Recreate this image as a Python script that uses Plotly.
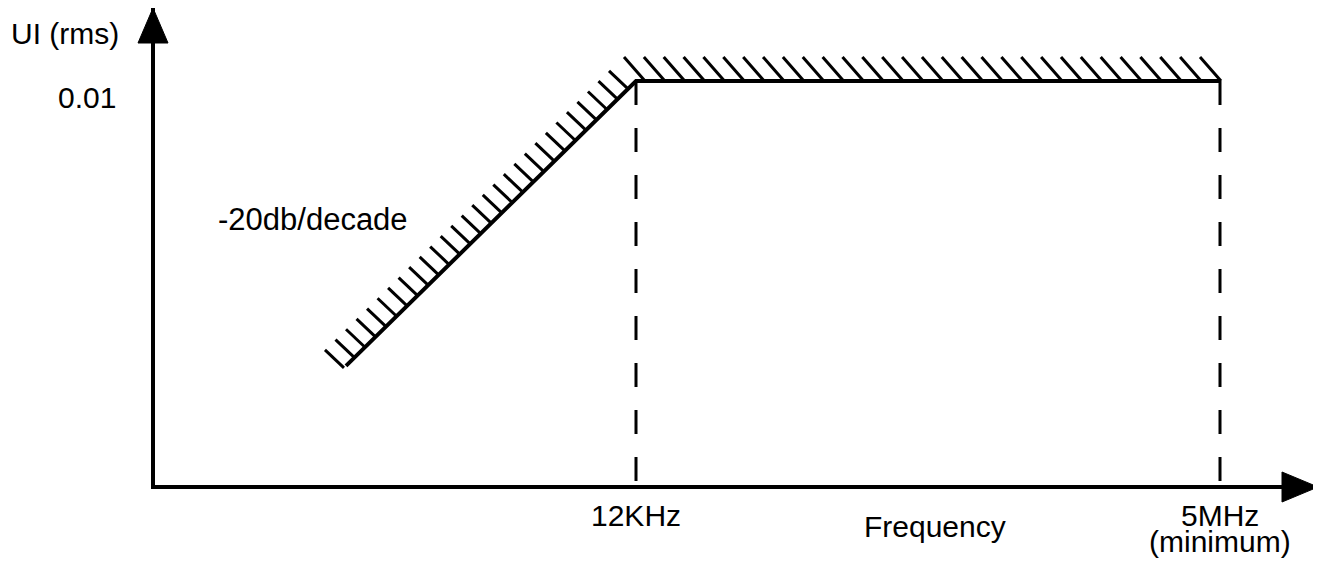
import numpy as np
import plotly.graph_objects as go

# ---- data ----
freq_hz = [600, 12000, 5e6]          # jitter tolerance mask corner points
ui_rms = [0.0005, 0.01, 0.01]
corner_freqs = [12000, 5e6]
corner_labels = ["12KHz", "5MHz"]
corner_notes = ["", "(minimum)"]
y_label_value = 0.01
y_label_text = "0.01"
slope_label = "-20db/decade"
x_title = "Frequency"
y_title = "UI (rms)"

# ---- layout geometry (page pixels; page body has an 8px margin) ----
OFF = 8
W, H = 1321 - OFF, 568 - OFF
Lp, Rp, Tp, Bp = 155, 1318, 8, 485          # plot area on the page
ML, MR, MT, MB = Lp - OFF, (1321 - Rp) - OFF if (1321 - Rp) > OFF else 0, Tp - OFF, (H + OFF) - Bp
PW = W - ML - MR
PH = H - MT - MB
Rp = ML + PW + OFF

# scale anchors: 12 kHz at page x 636, 5 MHz at 1220; 0.01 UI at page y 81
ppd_x = (1220 - 636) / (np.log10(5e6) - np.log10(12000))
ppd_y = 219.0
x_range = [np.log10(12000) - (636 - Lp) / ppd_x, np.log10(12000) + (Rp - 636) / ppd_x]
y_range = [-2 - (Bp - 81) / ppd_y, -2 + (81 - Tp) / ppd_y]


def pxp(px):   # page x -> paper
    return (px - Lp) / PW


def pyp(py):   # page y -> paper
    return (Bp - py) / PH


FONT = "Liberation Sans, Arial, Helvetica, sans-serif"
FS = 30

fig = go.Figure()

# ---- hatch marks along the mask line (upper side) ----
lx = np.log10(freq_hz)
ly = np.log10(ui_rms)
hx, hy = [], []
seg_specs = [
    # (segment index, spacing px, first offset px, end offset px, hatch dx px, hatch dy px)
    (0, 10.5, -2, -8, 19, 18),
    (1, 20.0, 9, 1, 21, 24),
]
for i, sp, off0, off1, dxp, dyp in seg_specs:
    x0, x1 = lx[i], lx[i + 1]
    y0, y1 = ly[i], ly[i + 1]
    a = x0 + off0 / ppd_x
    b = x1 + off1 / ppd_x
    n = int(round((b - a) * ppd_x / sp)) + 1
    for xb in np.linspace(a, b, n):
        t = (xb - x0) / (x1 - x0)
        yb = y0 + t * (y1 - y0)
        xt = xb - dxp / ppd_x
        yt = yb + dyp / ppd_y
        hx += [10 ** xt, 10 ** xb, None]
        hy += [10 ** yt, 10 ** yb, None]

fig.add_trace(go.Scatter(x=hx, y=hy, mode="lines",
                         line=dict(color="black", width=3),
                         hoverinfo="skip", showlegend=False))

# ---- mask line ----
fig.add_trace(go.Scatter(x=freq_hz, y=ui_rms, mode="lines",
                         line=dict(color="black", width=4),
                         hoverinfo="skip", showlegend=False))

# ---- dashed verticals at the corner frequencies ----
y_bottom = 10 ** y_range[0]
for f in corner_freqs:
    fig.add_trace(go.Scatter(x=[f, f], y=[y_label_value, y_bottom], mode="lines",
                             line=dict(color="black", width=3, dash="24px,23px"),
                             hoverinfo="skip", showlegend=False))

# ---- axes ----
axis_common = dict(showgrid=False, zeroline=False, showticklabels=False, ticks="",
                   showline=True, linewidth=4, linecolor="black", fixedrange=True)
fig.update_xaxes(type="log", range=x_range, **axis_common)
fig.update_yaxes(type="log", range=y_range, **axis_common)

# arrow heads (paper coordinates); axis lines sit 2px outside the plot area
yax_c = pxp(Lp - 2)
fig.add_shape(type="path", xref="paper", yref="paper",
              path=(f"M {yax_c},{pyp(8)} L {pxp(Lp - 2 - 15)},{pyp(43)} "
                    f"L {pxp(Lp - 2 + 15)},{pyp(43)} Z"),
              fillcolor="black", line=dict(color="black", width=1))
xax_c = Bp + 2
fig.add_shape(type="path", xref="paper", yref="paper",
              path=(f"M {pxp(1318)},{pyp(xax_c)} L {pxp(1282)},{pyp(xax_c - 15)} "
                    f"L {pxp(1282)},{pyp(xax_c + 15)} Z"),
              fillcolor="black", line=dict(color="black", width=1))

# ---- text ----
tf = dict(family=FONT, size=FS, color="black")
for f, lab, note in zip(corner_freqs, corner_labels, corner_notes):
    fig.add_annotation(x=np.log10(f), y=pyp(515), xref="x", yref="paper", text=lab,
                       showarrow=False, xanchor="center", yanchor="middle", font=tf)
    if note:
        fig.add_annotation(x=np.log10(f), y=pyp(541), xref="x", yref="paper", text=note,
                           showarrow=False, xanchor="center", yanchor="middle", font=tf)
fig.add_annotation(x=pxp(118), y=pyp(97), xref="paper", yref="paper",
                   text=y_label_text, showarrow=False, xanchor="right",
                   yanchor="middle", font=tf)
fig.add_annotation(x=pxp(121), y=pyp(33), xref="paper", yref="paper", text=y_title,
                   showarrow=False, xanchor="right", yanchor="middle", font=tf)
fig.add_annotation(x=pxp(216), y=pyp(219), xref="paper", yref="paper",
                   text=slope_label, showarrow=False, xanchor="left",
                   yanchor="middle", font=dict(family=FONT, size=31, color="black"))
fig.add_annotation(x=pxp(935), y=pyp(526), xref="paper", yref="paper",
                   text=x_title, showarrow=False, xanchor="center",
                   yanchor="middle", font=tf)

fig.update_layout(width=W, height=H,
                  margin=dict(l=ML, r=MR, t=MT, b=MB, pad=0),
                  paper_bgcolor="white", plot_bgcolor="white",
                  showlegend=False)

fig.write_html("out.html", config={"displayModeBar": False})
